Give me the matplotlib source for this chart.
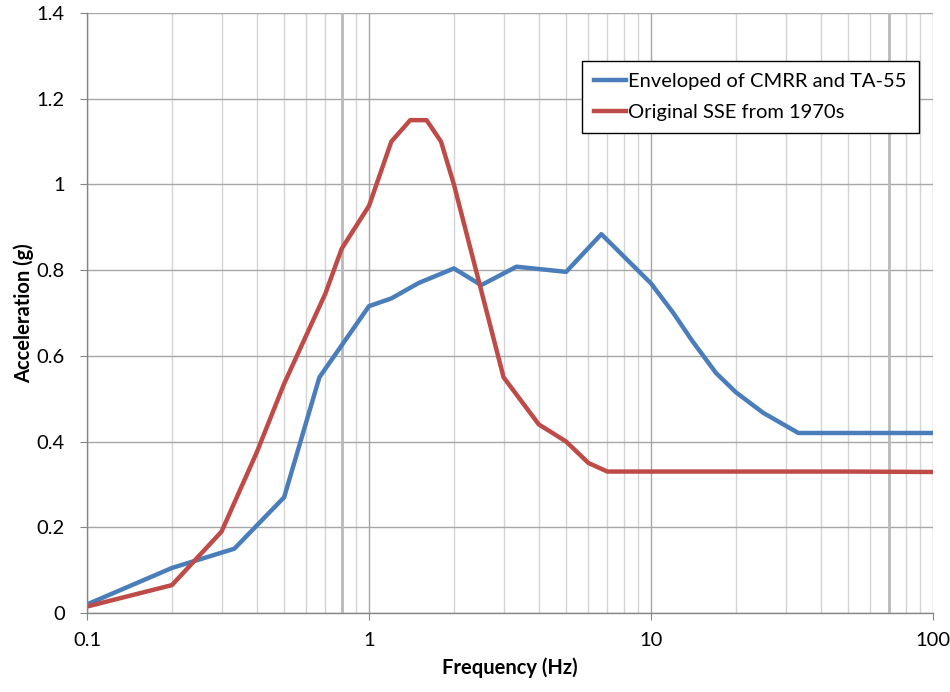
import numpy as np
import matplotlib.pyplot as plt
from matplotlib.ticker import FixedLocator, NullFormatter

# === DATA ===
env_freq = [0.1, 0.2, 0.333, 0.5, 0.667, 1.0, 1.2, 1.5, 2.0, 2.5, 3.333, 5.0,
            6.667, 10, 12, 14, 17, 20, 25, 33.3, 100]
env_acc = [0.02, 0.105, 0.15, 0.27, 0.55, 0.716, 0.734, 0.77, 0.804, 0.765,
           0.808, 0.796, 0.884, 0.769, 0.70, 0.635, 0.56, 0.515, 0.467, 0.42, 0.42]

sse_freq = [0.1, 0.2, 0.3, 0.4, 0.5, 0.7, 0.8, 1.0, 1.2, 1.4, 1.6, 1.8, 2.0,
            3.0, 4.0, 5.0, 6.0, 7.0, 50, 100]
sse_acc = [0.015, 0.065, 0.19, 0.375, 0.535, 0.745, 0.85, 0.95, 1.1, 1.15, 1.15,
           1.1, 1.0, 0.55, 0.44, 0.40, 0.35, 0.33, 0.33, 0.329]

labels = ["Enveloped of CMRR and TA-55", "Original SSE from 1970s"]
x_ticks = [0.1, 1, 10, 100]
x_ticklabels = ["0.1", "1", "10", "100"]
y_ticks = [0, 0.2, 0.4, 0.6, 0.8, 1.0, 1.2, 1.4]
y_ticklabels = ["0", "0.2", "0.4", "0.6", "0.8", "1", "1.2", "1.4"]
heavy_lines = [0.8, 70]  # odd darker gridlines in the original

FS = 14.5

# === PLOT ===
plt.rcParams['font.family'] = ['Lato', 'DejaVu Sans']
fig = plt.figure(figsize=(9.5, 6.92), dpi=100)
ax = fig.add_axes([0.0916, 0.1142, 0.8905, 0.867])

ax.set_xscale('log')
ax.set_xlim(0.1, 100)
ax.set_ylim(0, 1.4)

minor = [m * 10.0 ** d for d in range(-1, 2) for m in range(2, 10)]
ax.xaxis.set_minor_locator(FixedLocator(minor))
ax.xaxis.set_minor_formatter(NullFormatter())
ax.set_xticks(x_ticks)
ax.set_xticklabels(x_ticklabels)
ax.set_yticks(y_ticks)
ax.set_yticklabels(y_ticklabels)

ax.grid(which='major', axis='both', color='#a6a6a6', lw=1.0)
ax.grid(which='minor', axis='x', color='#d4d4d4', lw=1.0)
for xv in heavy_lines:
    ax.axvline(xv, color='#bababa', lw=2.0, zorder=0.6)
ax.set_axisbelow(True)

ax.plot(env_freq, env_acc, color='#4a7ebb', lw=3.2, label=labels[0])
ax.plot(sse_freq, sse_acc, color='#be4b48', lw=3.2, label=labels[1])

for s in ['top', 'right']:
    ax.spines[s].set_visible(False)
for s in ['left', 'bottom']:
    ax.spines[s].set_color('#868686')
    ax.spines[s].set_linewidth(1.0)

ax.tick_params(which='major', length=5, color='#868686', labelsize=FS)
ax.tick_params(axis='x', pad=9)
ax.tick_params(axis='y', pad=11)
ax.tick_params(which='minor', length=0)

ax.set_xlabel("Frequency (Hz)", fontsize=FS, fontweight='bold', labelpad=6)
ax.set_ylabel("Acceleration (g)", fontsize=FS, fontweight='bold', labelpad=2)

leg = ax.legend(loc='upper right', bbox_to_anchor=(0.9835, 0.92), fontsize=FS,
                fancybox=False, framealpha=1, edgecolor='#000000',
                handlelength=1.6, handletextpad=0.1, borderpad=0.6,
                labelspacing=0.7, borderaxespad=0)
leg.get_frame().set_linewidth(1.0)

fig.savefig("out.png", dpi=100)
